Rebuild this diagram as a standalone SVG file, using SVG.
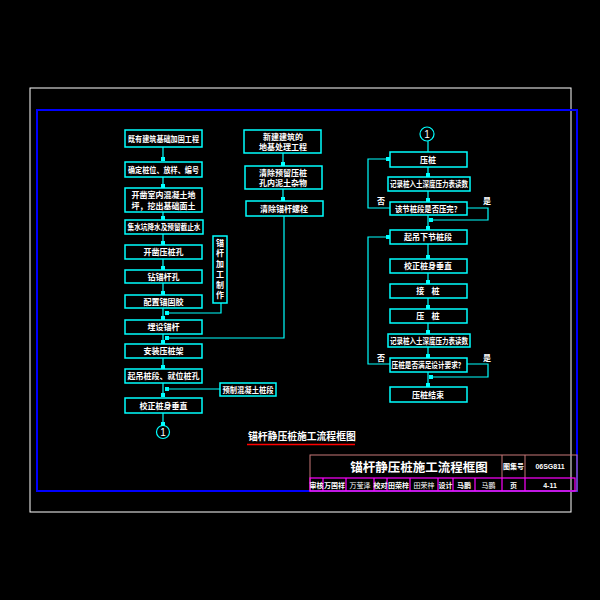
<svg xmlns="http://www.w3.org/2000/svg" width="600" height="600" viewBox="0 0 600 600">
<style>
.b{fill:none;stroke:#00ffff;stroke-width:1.5}
.t{fill:#fff;font-family:"Noto Sans CJK SC","Noto Sans",sans-serif;font-size:8px;font-weight:bold;text-anchor:middle}
.c{fill:none;stroke:#00ffff;stroke-width:1.2}
.tb{fill:#fff;font-family:"Noto Sans CJK SC","Noto Sans",sans-serif;font-size:7px;font-weight:bold;text-anchor:middle}
.m{fill:none;stroke:#ff00ff;stroke-width:1.2}
</style>
<defs>
<marker id="sq" viewBox="0 0 4 4" markerWidth="4" markerHeight="4" refX="2" refY="2" markerUnits="userSpaceOnUse" orient="auto"><rect width="4" height="4" fill="#00ffff"/></marker>
</defs>
<rect width="600" height="600" fill="#000"/>
<rect x="30" y="88" width="541" height="424" fill="none" stroke="#fff" stroke-width="1"/>
<rect x="37" y="110" width="540" height="381" fill="none" stroke="#0000ff" stroke-width="2"/>

<g id="connectors">
<path class="c" marker-end="url(#sq)" d="M163,147V159"/>
<path class="c" marker-end="url(#sq)" d="M163,177V186"/>
<path class="c" marker-end="url(#sq)" d="M163,212V218"/>
<path class="c" marker-end="url(#sq)" d="M163,234V243"/>
<path class="c" marker-end="url(#sq)" d="M163,259V268"/>
<path class="c" marker-end="url(#sq)" d="M163,283V293"/>
<path class="c" marker-end="url(#sq)" d="M163,308V318"/>
<path class="c" marker-end="url(#sq)" d="M163,334V342"/>
<path class="c" marker-end="url(#sq)" d="M163,358V367"/>
<path class="c" marker-end="url(#sq)" d="M163,383V395"/>
<path class="c" marker-end="url(#sq)" d="M163,413V424"/>
<path class="c" marker-end="url(#sq)" d="M221,303V313H167"/>
<path class="c" marker-end="url(#sq)" d="M284,216V338H167"/>
<path class="c" marker-end="url(#sq)" d="M220,389H167"/>
<path class="c" marker-end="url(#sq)" d="M283,153V164"/>
<path class="c" marker-end="url(#sq)" d="M283,189V199"/>
<path class="c" d="M428,141V152"/>
<path class="c" marker-end="url(#sq)" d="M428,167V175"/>
<path class="c" marker-end="url(#sq)" d="M428,191V200"/>
<path class="c" marker-end="url(#sq)" d="M428,215V228"/>
<path class="c" marker-end="url(#sq)" d="M428,244V257"/>
<path class="c" marker-end="url(#sq)" d="M428,273V282"/>
<path class="c" marker-end="url(#sq)" d="M428,298V307"/>
<path class="c" marker-end="url(#sq)" d="M428,323V332"/>
<path class="c" marker-end="url(#sq)" d="M428,347V356"/>
<path class="c" marker-end="url(#sq)" d="M428,372V385"/>
<path class="c" marker-end="url(#sq)" d="M390,208H368V159H388"/>
<path class="c" marker-end="url(#sq)" d="M467,208H488V220H431"/>
<path class="c" marker-end="url(#sq)" d="M390,364H368V237H388"/>
<path class="c" marker-end="url(#sq)" d="M467,364H488V377H431"/>
<text class="t" x="381" y="204">否</text>
<text class="t" x="487" y="204">是</text>
<text class="t" x="381" y="361">否</text>
<text class="t" x="487" y="361">是</text>
</g>

<g id="L1"><rect class="b" x="125" y="130" width="77" height="17"/><text class="t" x="163.5" y="141.5" textLength="71" lengthAdjust="spacingAndGlyphs">既有建筑基础加固工程</text></g>
<g id="L2"><rect class="b" x="125" y="162" width="77" height="15"/><text class="t" x="163.5" y="172.5" textLength="71" lengthAdjust="spacingAndGlyphs">确定桩位、放样、编号</text></g>
<g id="L3"><rect class="b" x="125" y="188" width="77" height="24"/><text class="t" x="163.5" y="198">开凿室内混凝土地</text><text class="t" x="163.5" y="208.5">坪，挖出基础面土</text></g>
<g id="L4"><rect class="b" x="125" y="220" width="78" height="14"/><text class="t" x="164" y="230" textLength="73" lengthAdjust="spacingAndGlyphs">集水坑降水及预留截止水</text></g>
<g id="L5"><rect class="b" x="125" y="245" width="77" height="14"/><text class="t" x="163.5" y="255">开凿压桩孔</text></g>
<g id="L6"><rect class="b" x="125" y="270" width="77" height="13"/><text class="t" x="163.5" y="279.5">钻锚杆孔</text></g>
<g id="L7"><rect class="b" x="125" y="295" width="77" height="13"/><text class="t" x="163.5" y="304.5">配置锚固胶</text></g>
<g id="L8"><rect class="b" x="125" y="320" width="77" height="14"/><text class="t" x="163.5" y="330">埋设锚杆</text></g>
<g id="L9"><rect class="b" x="125" y="344" width="77" height="14"/><text class="t" x="163.5" y="354">安装压桩架</text></g>
<g id="L10"><rect class="b" x="125" y="369" width="77" height="14"/><text class="t" x="163.5" y="379">起吊桩段、就位桩孔</text></g>
<g id="L11"><rect class="b" x="125" y="398" width="77" height="15"/><text class="t" x="163.5" y="408.5">校正桩身垂直</text></g>
<g id="C1L"><circle cx="163" cy="432" r="6.5" fill="none" stroke="#00ffff" stroke-width="1.2"/><text class="t" x="163" y="435.5" style="font-family:'Liberation Sans',sans-serif;font-weight:normal;font-size:10px">1</text></g>
<g id="V1"><rect class="b" x="213" y="236" width="14" height="67"/>
<text class="t" x="220" y="245.5">锚</text><text class="t" x="220" y="256">杆</text><text class="t" x="220" y="266.5">加</text><text class="t" x="220" y="277">工</text><text class="t" x="220" y="287.5">制</text><text class="t" x="220" y="298">作</text></g>
<g id="P1"><rect class="b" x="220" y="383" width="56" height="13"/><text class="t" x="248" y="392.5" textLength="51" lengthAdjust="spacingAndGlyphs">预制混凝土桩段</text></g>

<g id="M1"><rect class="b" x="244" y="130" width="77" height="23"/><text class="t" x="283" y="140">新建建筑的</text><text class="t" x="283" y="150">地基处理工程</text></g>
<g id="M2"><rect class="b" x="245" y="166" width="77" height="23"/><text class="t" x="283" y="176">清除预留压桩</text><text class="t" x="283" y="186">孔内泥土杂物</text></g>
<g id="M3"><rect class="b" x="246" y="201" width="77" height="15"/><text class="t" x="284" y="211.5">清除锚杆螺栓</text></g>

<g id="C1R"><circle cx="427" cy="134" r="7" fill="none" stroke="#00ffff" stroke-width="1.2"/><text class="t" x="427" y="137.5" style="font-family:'Liberation Sans',sans-serif;font-weight:normal;font-size:10px">1</text></g>
<g id="R1"><rect class="b" x="390" y="152" width="77" height="15"/><text class="t" x="428" y="162.5">压桩</text></g>
<g id="R2"><rect class="b" x="388" y="177" width="82" height="14"/><text class="t" x="429" y="187" textLength="78" lengthAdjust="spacingAndGlyphs">记录桩入土深度压力表读数</text></g>
<g id="R3"><rect class="b" x="390" y="202" width="77" height="13"/><text class="t" x="428" y="211.5" textLength="66" lengthAdjust="spacingAndGlyphs">该节桩段是否压完？</text></g>
<g id="R4"><rect class="b" x="390" y="230" width="77" height="14"/><text class="t" x="428" y="240">起吊下节桩段</text></g>
<g id="R5"><rect class="b" x="390" y="259" width="77" height="14"/><text class="t" x="428" y="269">校正桩身垂直</text></g>
<g id="R6"><rect class="b" x="390" y="284" width="77" height="14"/><text class="t" x="428" y="294" xml:space="preserve">接    桩</text></g>
<g id="R7"><rect class="b" x="390" y="309" width="77" height="14"/><text class="t" x="428" y="319" xml:space="preserve">压    桩</text></g>
<g id="R8"><rect class="b" x="388" y="334" width="82" height="13"/><text class="t" x="429" y="343.5" textLength="78" lengthAdjust="spacingAndGlyphs">记录桩入土深度压力表读数</text></g>
<g id="R9"><rect class="b" x="390" y="358" width="77" height="14"/><text class="t" x="428" y="368" textLength="73" lengthAdjust="spacingAndGlyphs">压桩是否满足设计要求？</text></g>
<g id="R10"><rect class="b" x="390" y="387" width="77" height="15"/><text class="t" x="428" y="397.5">压桩结束</text></g>

<g id="caption">
<text x="248" y="440" fill="#fff" style="font-family:'Noto Sans CJK SC',sans-serif;font-size:9.8px;font-weight:bold">锚杆静压桩施工流程框图</text>
<line x1="247" y1="444.5" x2="355" y2="444.5" stroke="#ff0000" stroke-width="1.5"/>
</g>

<g id="titleblock">
<rect x="310" y="455" width="267" height="36" fill="none" stroke="#c87878" stroke-width="1"/>
<line x1="502" y1="455" x2="502" y2="478" stroke="#c87878" stroke-width="1"/>
<line x1="525" y1="455" x2="525" y2="478" stroke="#c87878" stroke-width="1"/>
<rect class="m" x="310" y="478" width="265" height="13"/>
<line class="m" x1="323" y1="478" x2="323" y2="491"/>
<line class="m" x1="346" y1="478" x2="346" y2="491"/>
<line class="m" x1="374" y1="478" x2="374" y2="491"/>
<line class="m" x1="387" y1="478" x2="387" y2="491"/>
<line class="m" x1="410" y1="478" x2="410" y2="491"/>
<line class="m" x1="438" y1="478" x2="438" y2="491"/>
<line class="m" x1="453" y1="478" x2="453" y2="491"/>
<line class="m" x1="475" y1="478" x2="475" y2="491"/>
<line class="m" x1="502" y1="478" x2="502" y2="491"/>
<line class="m" x1="525" y1="478" x2="525" y2="491"/>
<text x="419" y="471.5" fill="#fff" text-anchor="middle" style="font-family:'Noto Sans CJK SC',sans-serif;font-size:12.5px;font-weight:bold">锚杆静压桩施工流程框图</text>
<text class="tb" x="513.5" y="469">图集号</text>
<text class="tb" x="550" y="469" style="font-family:'Liberation Sans',sans-serif;font-size:7px">06SG811</text>
<text class="tb" x="316.5" y="487.5">审核</text>
<text class="tb" x="334.5" y="487.5">万国祥</text>
<text class="tb" x="360" y="487.5" style="font-weight:normal">万莹泽</text>
<text class="tb" x="380.5" y="487.5">校对</text>
<text class="tb" x="398.5" y="487.5">田荣梓</text>
<text class="tb" x="424" y="487.5" style="font-weight:normal">田荣梓</text>
<text class="tb" x="445.5" y="487.5">设计</text>
<text class="tb" x="464" y="487.5">马鹏</text>
<text class="tb" x="488.5" y="487.5" style="font-weight:normal">马鹏</text>
<text class="tb" x="513.5" y="487.5">页</text>
<text class="tb" x="550" y="487.5" style="font-family:'Liberation Sans',sans-serif">4-11</text>
</g>
</svg>
